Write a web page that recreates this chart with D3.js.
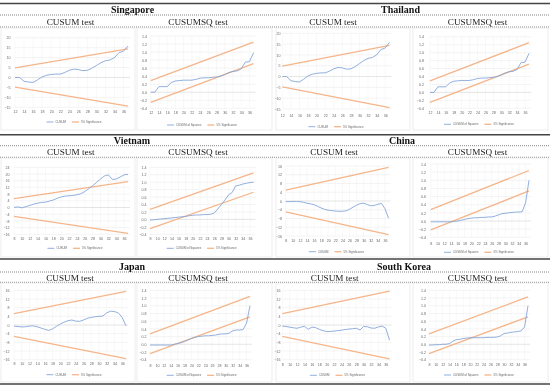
<!DOCTYPE html>
<html><head><meta charset="utf-8">
<script src="https://cdn.jsdelivr.net/npm/d3@7"></script>
<style>body{margin:0;background:#fff}svg{display:block;will-change:transform}</style>
</head><body><svg id="c" width="550" height="388"></svg>
<script>
// ---------- data ----------
const countries = ["Singapore", "Thailand", "Vietnam", "China", "Japan", "South Korea"];
const testTitles = ["CUSUM test", "CUSUMSQ test"];
const legendCusum = ["CUSUM", "5% Significance"];
const legendCusumsq = ["CUSUM of Squares", "5% Significance"];

const yearsA = [12,13,14,15,16,17,18,19,20,21,22,23,24,25,26,27,28,29,30,31,32,33,34,35,36,37];
const yearsB = [8,9,10,11,12,13,14,15,16,17,18,19,20,21,22,23,24,25,26,27,28,29,30,31,32,33,34,35,36,37];
const xTicksA = [12,14,16,18,20,22,24,26,28,30,32,34,36];
const xTicksB = [8,10,12,14,16,18,20,22,24,26,28,30,32,34,36];

const cusumTicks20 = [-15,-10,-5,0,5,10,15,20];
const cusumTicks24 = [-16,-12,-8,-4,0,4,8,12,16,20,24];
const cusumTicks16 = [-16,-12,-8,-4,0,4,8,12,16];
const sqTicks = [-0.4,-0.2,0,0.2,0.4,0.6,0.8,1.0,1.2,1.4];

const sgCusum = [0,0,-1.9,-2.3,-2.5,-1.2,0.3,1.1,1.5,1.7,1.7,2.5,3.6,4.2,4.0,3.4,3.6,4.6,6.0,7.4,8.4,8.8,10.0,12.5,13.2,15.8];
const sgCusumUpper = [4.8, 14.4];
const sgCusumLower = [-4.8, -14.4];
const sgSq = [0,0,0.14,0.14,0.14,0.24,0.28,0.29,0.3,0.3,0.3,0.32,0.35,0.36,0.36,0.37,0.38,0.4,0.44,0.49,0.52,0.53,0.58,0.75,0.76,0.98];
const sgSqUpper = [0.29, 1.25];
const sgSqLower = [-0.25, 0.71];

const thCusum = [0,0,-1.9,-2.3,-2.5,-1.2,0.3,1.1,1.5,1.7,1.7,2.5,3.6,4.2,4.0,3.4,3.6,4.6,6.0,7.4,8.4,8.8,10.0,12.5,13.2,15.8];
const thCusumUpper = [4.8, 14.4];
const thCusumLower = [-4.8, -14.4];
const thSq = [0,0,0.14,0.14,0.14,0.24,0.28,0.29,0.3,0.3,0.3,0.32,0.35,0.36,0.36,0.37,0.38,0.4,0.44,0.49,0.52,0.53,0.58,0.75,0.76,0.98];
const thSqUpper = [0.29, 1.25];
const thSqLower = [-0.25, 0.71];

const vnCusum = [0,0.4,-0.2,0.5,1.2,2,2.6,3,3.2,3.8,4.5,5.5,6.3,6.8,7,7.2,7.6,8.2,9.5,11.2,13,15,17,18.8,19.5,16.8,17,18.2,19.5,19.8];
const vnCusumUpper = [5.3, 15.5];
const vnCusumLower = [-5.3, -15.5];
const vnSq = [-0.02,-0.01,0,0.01,0.02,0.03,0.04,0.05,0.06,0.07,0.08,0.1,0.11,0.12,0.12,0.13,0.13,0.14,0.17,0.28,0.4,0.52,0.66,0.72,0.9,0.92,0.95,0.97,0.99,1.0];
const vnSqUpper = [0.27, 1.25];
const vnSqLower = [-0.25, 0.73];

const cnCusum = [-0.3,-0.3,-0.2,-0.2,-0.3,-0.6,-1.0,-1.3,-1.7,-2.4,-3.2,-3.8,-4.2,-4.4,-4.6,-4.7,-4.7,-4.5,-3.8,-2.8,-1.9,-1.2,-1.0,-1.6,-2.2,-2.0,-1.5,-1.1,-3.5,-7.8];
const cnCusumUpper = [5.0, 15.4];
const cnCusumLower = [-5.0, -15.4];
const cnSq = [-0.02,-0.02,-0.02,-0.02,-0.02,-0.02,-0.02,-0.01,0,0.02,0.04,0.06,0.07,0.08,0.08,0.09,0.09,0.1,0.1,0.12,0.15,0.18,0.19,0.2,0.21,0.22,0.22,0.23,0.45,1.0];
const cnSqUpper = [0.28, 1.24];
const cnSqLower = [-0.22, 0.74];

const jpCusum = [-0.5,-0.7,-0.9,-0.8,-0.5,-0.4,-0.8,-1.4,-2.0,-2.5,-1.8,-0.6,0.5,1.3,2.0,2.3,1.8,1.7,2.3,3.1,3.5,3.8,4.0,4.1,5.6,6.4,6.2,5.6,3.5,-0.4];
const jpCusumUpper = [5.2, 15.5];
const jpCusumLower = [-5.2, -15.5];
const jpSq = [-0.02,-0.02,-0.02,-0.02,-0.02,-0.02,-0.02,0,0.02,0.04,0.07,0.11,0.15,0.18,0.2,0.21,0.22,0.22,0.23,0.24,0.26,0.27,0.27,0.29,0.35,0.37,0.37,0.38,0.55,1.0];
const jpSqUpper = [0.27, 1.24];
const jpSqLower = [-0.24, 0.71];

const krCusum = [-0.5,-0.7,-1.0,-1.3,-1.5,-1.0,-0.6,-2.0,-1.0,-1.2,-2.0,-2.6,-3.0,-3.0,-2.8,-2.6,-2.4,-2.1,-1.9,-1.7,-1.5,-2.3,-0.7,-0.8,-1.4,-1.5,-0.9,-0.5,-1.5,-7.0];
const krCusumUpper = [5.2, 15.6];
const krCusumLower = [-5.2, -15.6];
const krSq = [-0.02,-0.02,-0.01,-0.01,0,0,0.02,0.08,0.12,0.13,0.15,0.16,0.17,0.17,0.17,0.17,0.17,0.18,0.18,0.18,0.19,0.22,0.28,0.29,0.31,0.32,0.33,0.35,0.45,1.0];
const krSqUpper = [0.27, 1.23];
const krSqLower = [-0.24, 0.71];

// ---------- layout ----------
const svg = d3.select("#c");
const BLUE = "#84a6da", ORANGE = "#f5b58a";
const SERIF = "'Liberation Serif','DejaVu Serif',serif";
const SANS = "'Liberation Sans',Arial,sans-serif";

// table rules
[3.5, 134.7, 259, 384].forEach(y => svg.append("line").attr("x1",0).attr("x2",550).attr("y1",y).attr("y2",y)
  .attr("stroke","#444").attr("stroke-width",1.6));
[15, 27, 145.7, 157.3, 272, 282.3].forEach(y => svg.append("line").attr("x1",0).attr("x2",550).attr("y1",y).attr("y2",y)
  .attr("stroke","#666").attr("stroke-width",0.8).attr("stroke-dasharray","1,1"));

// country headers
const headers = [
  {t: countries[0], x: 132.5, y: 9.6}, {t: countries[1], x: 400.5, y: 9.6},
  {t: countries[2], x: 132, y: 140.3}, {t: countries[3], x: 402, y: 140.3},
  {t: countries[4], x: 132, y: 266.6}, {t: countries[5], x: 404, y: 266.6}
];
headers.forEach(h => svg.append("text").attr("x",h.x).attr("y",h.y).attr("dy","0.35em")
  .attr("text-anchor","middle").attr("font-family",SERIF).attr("font-weight","bold")
  .attr("font-size",10).style("fill","#111").text(h.t));

// chart specs
const specs = [
  {d: sgCusum, yrs: yearsA, xt: xTicksA, yt: cusumTicks20, up: sgCusumUpper, lo: sgCusumLower, sq:false,
   x0:15, x1:128, yTop:37.7, yBot:107.3, yLab:10.5, xLab:112, legY:122, legX:74, tX:70.5, tY:21.5, box:[1,28,135,130]},
  {d: sgSq, yrs: yearsA, xt: xTicksA, yt: sqTicks, up: sgSqUpper, lo: sgSqLower, sq:true,
   x0:150.7, x1:253.5, yTop:36, yBot:108.3, yLab:147, xLab:113, legY:125, legX:202, tX:198, tY:21.5, box:[137,28,272,130]},
  {d: thCusum, yrs: yearsA, xt: xTicksA, yt: cusumTicks20, up: thCusumUpper, lo: thCusumLower, sq:false,
   x0:282.3, x1:389.5, yTop:33.3, yBot:109, yLab:280.5, xLab:115.7, legY:126.7, legX:336, tX:333, tY:21.5, box:[276,28,410,130]},
  {d: thSq, yrs: yearsA, xt: xTicksA, yt: sqTicks, up: thSqUpper, lo: thSqLower, sq:true,
   x0:430, x1:529, yTop:36.7, yBot:108.3, yLab:424, xLab:112.7, legY:124.3, legX:479, tX:477.5, tY:21.5, box:[413,28,548,130]},

  {d: vnCusum, yrs: yearsB, xt: xTicksB, yt: cusumTicks24, up: vnCusumUpper, lo: vnCusumLower, sq:false,
   x0:14, x1:128, yTop:167.3, yBot:234.3, yLab:9.5, xLab:238.3, legY:248.3, legX:75, tX:70.8, tY:152.2, box:[1,158,135,257]},
  {d: vnSq, yrs: yearsB, xt: xTicksB, yt: sqTicks, up: vnSqUpper, lo: vnSqLower, sq:true,
   x0:150, x1:253.5, yTop:167.3, yBot:234.3, yLab:146.5, xLab:238.3, legY:248.3, legX:201.7, tX:198, tY:152.2, box:[137,158,272,257]},
  {d: cnCusum, yrs: yearsB, xt: xTicksB, yt: cusumTicks16, up: cnCusumUpper, lo: cnCusumLower, sq:false,
   x0:285.7, x1:388.5, yTop:166, yBot:236, yLab:282, xLab:241, legY:251.7, legX:336.5, tX:334, tY:152.2, box:[276,158,410,257]},
  {d: cnSq, yrs: yearsB, xt: xTicksB, yt: sqTicks, up: cnSqUpper, lo: cnSqLower, sq:true,
   x0:430.7, x1:529, yTop:164, yBot:237.3, yLab:426, xLab:243.3, legY:252.3, legX:479, tX:477.5, tY:152.2, box:[413,158,548,257]},

  {d: jpCusum, yrs: yearsB, xt: xTicksB, yt: cusumTicks16, up: jpCusumUpper, lo: jpCusumLower, sq:false,
   x0:14, x1:126, yTop:290.3, yBot:359.7, yLab:9.5, xLab:364, legY:374.7, legX:74, tX:70, tY:277.5, box:[1,283,135,382]},
  {d: jpSq, yrs: yearsB, xt: xTicksB, yt: sqTicks, up: jpSqUpper, lo: jpSqLower, sq:true,
   x0:150, x1:250, yTop:290.3, yBot:359.7, yLab:146.5, xLab:365.7, legY:375.3, legX:201.7, tX:198, tY:277.5, box:[137,283,272,382]},
  {d: krCusum, yrs: yearsB, xt: xTicksB, yt: cusumTicks16, up: krCusumUpper, lo: krCusumLower, sq:false,
   x0:282.3, x1:389.5, yTop:290.3, yBot:359.7, yLab:280.5, xLab:364.7, legY:375.3, legX:337.5, tX:334.7, tY:277.5, box:[276,283,410,382]},
  {d: krSq, yrs: yearsB, xt: xTicksB, yt: sqTicks, up: krSqUpper, lo: krSqLower, sq:true,
   x0:429, x1:528, yTop:290.3, yBot:359.7, yLab:426, xLab:364.7, legY:375, legX:479, tX:477.5, tY:277.5, box:[413,283,548,382]}
];

function drawChart(s) {
  const g = svg.append("g");
  const first = s.yrs[0], last = s.yrs[s.yrs.length - 1];
  const x = d3.scaleLinear().domain([first, last]).range([s.x0, s.x1]);
  const y = d3.scaleLinear().domain([s.yt[0], s.yt[s.yt.length - 1]]).range([s.yBot, s.yTop]);

  // chart border
  g.append("rect").attr("x", s.box[0]).attr("y", s.box[1]).attr("width", s.box[2]-s.box[0])
    .attr("height", s.box[3]-s.box[1]).attr("fill","none").attr("stroke","#e2e2e2").attr("stroke-width",0.6);

  // subtitle
  g.append("text").attr("x", s.tX).attr("y", s.tY).attr("dy","0.35em").attr("text-anchor","middle")
    .attr("font-family", SERIF).attr("font-size", 9.2).style("fill","#1a1a1a")
    .text(s.sq ? testTitles[1] : testTitles[0]);

  // gridlines
  g.selectAll(".vg").data(s.xt).join("line").attr("class","vg")
    .attr("x1", d => x(d)).attr("x2", d => x(d)).attr("y1", s.yTop).attr("y2", s.yBot)
    .attr("stroke", "#f1f1f1").attr("stroke-width", 0.5);
  g.selectAll(".hg").data(s.yt).join("line").attr("class","hg")
    .attr("x1", s.x0).attr("x2", s.x1 + 2).attr("y1", d => y(d)).attr("y2", d => y(d))
    .attr("stroke", d => d === 0 ? "#d4d4d4" : "#ececec").attr("stroke-width", 0.6);

  // y axis labels
  const fmt = s.sq ? d3.format(".1f") : d3.format("d");
  const ya = d3.axisLeft(y).tickValues(s.yt).tickSize(0).tickPadding(0).tickFormat(fmt);
  const yg = g.append("g").attr("transform", `translate(${s.yLab},0)`).call(ya);
  yg.select(".domain").remove();
  yg.selectAll("text").attr("font-family", SANS).attr("font-size", 3.6).attr("fill", "#666");

  // x axis labels
  const xa = d3.axisBottom(x).tickValues(s.xt).tickSize(0).tickPadding(0).tickFormat(d3.format("d"));
  const xg = g.append("g").attr("transform", `translate(0,${s.xLab})`).call(xa);
  xg.select(".domain").remove();
  xg.selectAll("text").attr("y", 0).attr("dy", "0.35em")
    .attr("font-family", SANS).attr("font-size", 3.6).attr("fill", "#666");

  // significance bounds
  const line = d3.line().x(d => x(d[0])).y(d => y(d[1]));
  [s.up, s.lo].forEach(b => {
    g.append("path").datum([[first, b[0]], [last, b[1]]]).attr("d", line)
      .attr("fill","none").attr("stroke", ORANGE).attr("stroke-width", 1.3);
  });
  // statistic line
  g.append("path").datum(s.yrs.map((yr, i) => [yr, s.d[i]])).attr("d", line)
    .attr("fill","none").attr("stroke", BLUE).attr("stroke-width", 0.9).attr("stroke-linejoin","round");

  // legend
  const labels = s.sq ? legendCusumsq : legendCusum;
  const lg = g.append("g");
  let cx = 0;
  [[BLUE, labels[0], 0.9], [ORANGE, labels[1], 1.3]].forEach((it, i) => {
    if (i > 0) cx += 6;
    lg.append("line").attr("x1", cx).attr("x2", cx + 7).attr("y1", 0).attr("y2", 0)
      .attr("stroke", it[0]).attr("stroke-width", it[2]);
    cx += 9;
    const t = lg.append("text").attr("x", cx).attr("y", 0).attr("dy", "0.35em")
      .attr("font-family", SANS).attr("font-size", 2.9).attr("fill", "#666").text(it[1]);
    cx += t.node().getComputedTextLength();
  });
  lg.attr("transform", `translate(${s.legX - cx / 2},${s.legY})`);
}

specs.forEach(drawChart);
</script>
</body></html>
